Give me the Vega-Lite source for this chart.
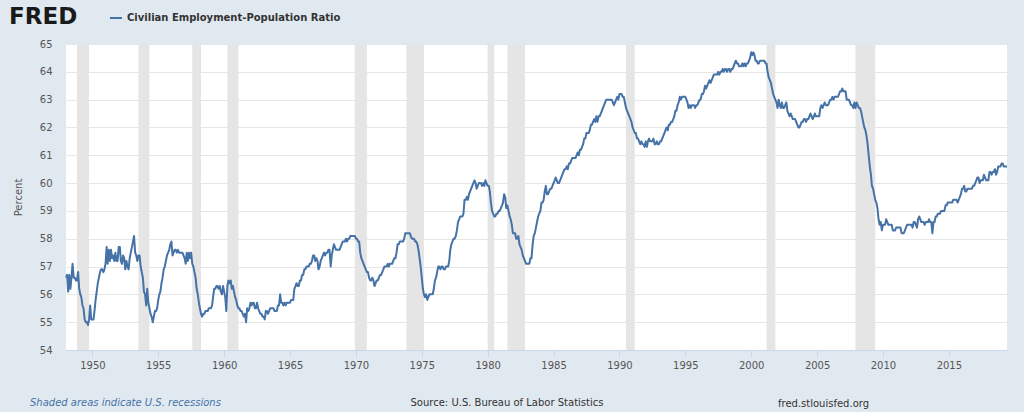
{
  "$schema": "https://vega.github.io/schema/vega-lite/v6.json",
  "width": 941,
  "height": 306,
  "autosize": {"type": "none"},
  "padding": {"left": 66, "top": 44, "right": 17, "bottom": 62},
  "background": "#e1e9f0",
  "config": {
    "font": "DejaVu Sans",
    "view": {"fill": "#ffffff", "stroke": null}
  },
  "title": {
    "text": "fred.stlouisfed.org",
    "orient": "bottom",
    "anchor": "start",
    "frame": "group",
    "dx": 712,
    "dy": -13,
    "fontSize": 10,
    "fontWeight": "normal",
    "color": "#333333"
  },
  "datasets": {
    "recessions": [
      {"start": "1948-11-01", "end": "1949-10-01", "note": "Shaded areas indicate U.S. recessions"},
      {"start": "1953-07-01", "end": "1954-05-01", "note": "Shaded areas indicate U.S. recessions"},
      {"start": "1957-08-01", "end": "1958-04-01", "note": "Shaded areas indicate U.S. recessions"},
      {"start": "1960-04-01", "end": "1961-02-01", "note": "Shaded areas indicate U.S. recessions"},
      {"start": "1969-12-01", "end": "1970-11-01", "note": "Shaded areas indicate U.S. recessions"},
      {"start": "1973-11-01", "end": "1975-03-01", "note": "Shaded areas indicate U.S. recessions"},
      {"start": "1980-01-01", "end": "1980-07-01", "note": "Shaded areas indicate U.S. recessions"},
      {"start": "1981-07-01", "end": "1982-11-01", "note": "Shaded areas indicate U.S. recessions"},
      {"start": "1990-07-01", "end": "1991-03-01", "note": "Shaded areas indicate U.S. recessions"},
      {"start": "2001-03-01", "end": "2001-11-01", "note": "Shaded areas indicate U.S. recessions"},
      {"start": "2007-12-01", "end": "2009-06-01", "note": "Shaded areas indicate U.S. recessions"}
    ],
    "ratio": [
      {"date":"1948-01-01","value":56.6},{"date":"1948-02-01","value":56.7},{"date":"1948-03-01","value":56.1},{"date":"1948-04-01","value":56.7},{"date":"1948-05-01","value":56.2},{"date":"1948-06-01","value":56.6},{"date":"1948-07-01","value":57.1},{"date":"1948-08-01","value":56.6},{"date":"1948-09-01","value":56.6},{"date":"1948-10-01","value":56.5},{"date":"1948-11-01","value":56.5},{"date":"1948-12-01","value":56.8},
      {"date":"1949-01-01","value":56.2},{"date":"1949-02-01","value":56.0},{"date":"1949-03-01","value":55.9},{"date":"1949-04-01","value":55.6},{"date":"1949-05-01","value":55.5},{"date":"1949-06-01","value":55.1},{"date":"1949-07-01","value":55.0},{"date":"1949-08-01","value":55.0},{"date":"1949-09-01","value":54.9},{"date":"1949-10-01","value":55.1},{"date":"1949-11-01","value":55.6},{"date":"1949-12-01","value":55.1},
      {"date":"1950-01-01","value":55.1},{"date":"1950-02-01","value":55.1},{"date":"1950-03-01","value":55.4},{"date":"1950-04-01","value":55.8},{"date":"1950-05-01","value":56.1},{"date":"1950-06-01","value":56.4},{"date":"1950-07-01","value":56.6},{"date":"1950-08-01","value":56.8},{"date":"1950-09-01","value":56.9},{"date":"1950-10-01","value":56.9},{"date":"1950-11-01","value":56.8},{"date":"1950-12-01","value":56.9},
      {"date":"1951-01-01","value":57.1},{"date":"1951-02-01","value":57.7},{"date":"1951-03-01","value":57.1},{"date":"1951-04-01","value":57.6},{"date":"1951-05-01","value":57.2},{"date":"1951-06-01","value":57.6},{"date":"1951-07-01","value":57.3},{"date":"1951-08-01","value":57.4},{"date":"1951-09-01","value":57.2},{"date":"1951-10-01","value":57.5},{"date":"1951-11-01","value":57.2},{"date":"1951-12-01","value":57.2},
      {"date":"1952-01-01","value":57.7},{"date":"1952-02-01","value":57.7},{"date":"1952-03-01","value":57.2},{"date":"1952-04-01","value":57.1},{"date":"1952-05-01","value":57.4},{"date":"1952-06-01","value":57.3},{"date":"1952-07-01","value":56.9},{"date":"1952-08-01","value":57.2},{"date":"1952-09-01","value":57.0},{"date":"1952-10-01","value":56.9},{"date":"1952-11-01","value":57.3},{"date":"1952-12-01","value":57.5},
      {"date":"1953-01-01","value":57.7},{"date":"1953-02-01","value":57.9},{"date":"1953-03-01","value":58.1},{"date":"1953-04-01","value":57.5},{"date":"1953-05-01","value":57.4},{"date":"1953-06-01","value":57.2},{"date":"1953-07-01","value":57.4},{"date":"1953-08-01","value":57.4},{"date":"1953-09-01","value":57.0},{"date":"1953-10-01","value":56.8},{"date":"1953-11-01","value":56.6},{"date":"1953-12-01","value":56.1},
      {"date":"1954-01-01","value":56.0},{"date":"1954-02-01","value":55.6},{"date":"1954-03-01","value":56.2},{"date":"1954-04-01","value":55.7},{"date":"1954-05-01","value":55.5},{"date":"1954-06-01","value":55.3},{"date":"1954-07-01","value":55.2},{"date":"1954-08-01","value":55.0},{"date":"1954-09-01","value":55.2},{"date":"1954-10-01","value":55.4},{"date":"1954-11-01","value":55.4},{"date":"1954-12-01","value":55.5},
      {"date":"1955-01-01","value":55.8},{"date":"1955-02-01","value":56.0},{"date":"1955-03-01","value":56.1},{"date":"1955-04-01","value":56.4},{"date":"1955-05-01","value":56.6},{"date":"1955-06-01","value":56.9},{"date":"1955-07-01","value":57.0},{"date":"1955-08-01","value":57.2},{"date":"1955-09-01","value":57.4},{"date":"1955-10-01","value":57.5},{"date":"1955-11-01","value":57.6},{"date":"1955-12-01","value":57.8},
      {"date":"1956-01-01","value":57.9},{"date":"1956-02-01","value":57.4},{"date":"1956-03-01","value":57.5},{"date":"1956-04-01","value":57.6},{"date":"1956-05-01","value":57.6},{"date":"1956-06-01","value":57.5},{"date":"1956-07-01","value":57.6},{"date":"1956-08-01","value":57.5},{"date":"1956-09-01","value":57.5},{"date":"1956-10-01","value":57.5},{"date":"1956-11-01","value":57.5},{"date":"1956-12-01","value":57.4},
      {"date":"1957-01-01","value":57.3},{"date":"1957-02-01","value":57.1},{"date":"1957-03-01","value":57.5},{"date":"1957-04-01","value":57.2},{"date":"1957-05-01","value":57.5},{"date":"1957-06-01","value":57.3},{"date":"1957-07-01","value":57.5},{"date":"1957-08-01","value":57.1},{"date":"1957-09-01","value":57.0},{"date":"1957-10-01","value":56.8},{"date":"1957-11-01","value":56.6},{"date":"1957-12-01","value":56.2},
      {"date":"1958-01-01","value":56.0},{"date":"1958-02-01","value":55.7},{"date":"1958-03-01","value":55.5},{"date":"1958-04-01","value":55.3},{"date":"1958-05-01","value":55.2},{"date":"1958-06-01","value":55.3},{"date":"1958-07-01","value":55.3},{"date":"1958-08-01","value":55.4},{"date":"1958-09-01","value":55.4},{"date":"1958-10-01","value":55.4},{"date":"1958-11-01","value":55.5},{"date":"1958-12-01","value":55.5},
      {"date":"1959-01-01","value":55.5},{"date":"1959-02-01","value":55.6},{"date":"1959-03-01","value":55.9},{"date":"1959-04-01","value":56.2},{"date":"1959-05-01","value":56.2},{"date":"1959-06-01","value":56.3},{"date":"1959-07-01","value":56.3},{"date":"1959-08-01","value":56.2},{"date":"1959-09-01","value":56.3},{"date":"1959-10-01","value":56.1},{"date":"1959-11-01","value":56.0},{"date":"1959-12-01","value":56.3},
      {"date":"1960-01-01","value":56.1},{"date":"1960-02-01","value":55.9},{"date":"1960-03-01","value":55.4},{"date":"1960-04-01","value":56.3},{"date":"1960-05-01","value":56.5},{"date":"1960-06-01","value":56.4},{"date":"1960-07-01","value":56.5},{"date":"1960-08-01","value":56.2},{"date":"1960-09-01","value":56.3},{"date":"1960-10-01","value":56.1},{"date":"1960-11-01","value":55.9},{"date":"1960-12-01","value":55.8},
      {"date":"1961-01-01","value":55.6},{"date":"1961-02-01","value":55.5},{"date":"1961-03-01","value":55.5},{"date":"1961-04-01","value":55.4},{"date":"1961-05-01","value":55.4},{"date":"1961-06-01","value":55.3},{"date":"1961-07-01","value":55.2},{"date":"1961-08-01","value":55.3},{"date":"1961-09-01","value":55.0},{"date":"1961-10-01","value":55.5},{"date":"1961-11-01","value":55.4},{"date":"1961-12-01","value":55.5},
      {"date":"1962-01-01","value":55.7},{"date":"1962-02-01","value":55.6},{"date":"1962-03-01","value":55.7},{"date":"1962-04-01","value":55.7},{"date":"1962-05-01","value":55.5},{"date":"1962-06-01","value":55.5},{"date":"1962-07-01","value":55.7},{"date":"1962-08-01","value":55.5},{"date":"1962-09-01","value":55.4},{"date":"1962-10-01","value":55.3},{"date":"1962-11-01","value":55.3},{"date":"1962-12-01","value":55.2},
      {"date":"1963-01-01","value":55.2},{"date":"1963-02-01","value":55.1},{"date":"1963-03-01","value":55.4},{"date":"1963-04-01","value":55.4},{"date":"1963-05-01","value":55.3},{"date":"1963-06-01","value":55.4},{"date":"1963-07-01","value":55.5},{"date":"1963-08-01","value":55.5},{"date":"1963-09-01","value":55.5},{"date":"1963-10-01","value":55.5},{"date":"1963-11-01","value":55.4},{"date":"1963-12-01","value":55.4},
      {"date":"1964-01-01","value":55.4},{"date":"1964-02-01","value":55.6},{"date":"1964-03-01","value":55.6},{"date":"1964-04-01","value":56.0},{"date":"1964-05-01","value":55.7},{"date":"1964-06-01","value":55.7},{"date":"1964-07-01","value":55.6},{"date":"1964-08-01","value":55.7},{"date":"1964-09-01","value":55.6},{"date":"1964-10-01","value":55.7},{"date":"1964-11-01","value":55.7},{"date":"1964-12-01","value":55.7},
      {"date":"1965-01-01","value":55.7},{"date":"1965-02-01","value":55.8},{"date":"1965-03-01","value":55.8},{"date":"1965-04-01","value":55.8},{"date":"1965-05-01","value":56.2},{"date":"1965-06-01","value":56.3},{"date":"1965-07-01","value":56.4},{"date":"1965-08-01","value":56.3},{"date":"1965-09-01","value":56.3},{"date":"1965-10-01","value":56.5},{"date":"1965-11-01","value":56.5},{"date":"1965-12-01","value":56.7},
      {"date":"1966-01-01","value":56.7},{"date":"1966-02-01","value":56.9},{"date":"1966-03-01","value":56.9},{"date":"1966-04-01","value":57.0},{"date":"1966-05-01","value":57.0},{"date":"1966-06-01","value":57.0},{"date":"1966-07-01","value":57.1},{"date":"1966-08-01","value":57.1},{"date":"1966-09-01","value":57.2},{"date":"1966-10-01","value":57.4},{"date":"1966-11-01","value":57.4},{"date":"1966-12-01","value":57.2},
      {"date":"1967-01-01","value":57.3},{"date":"1967-02-01","value":57.2},{"date":"1967-03-01","value":56.9},{"date":"1967-04-01","value":57.0},{"date":"1967-05-01","value":57.2},{"date":"1967-06-01","value":57.3},{"date":"1967-07-01","value":57.4},{"date":"1967-08-01","value":57.5},{"date":"1967-09-01","value":57.4},{"date":"1967-10-01","value":57.5},{"date":"1967-11-01","value":57.5},{"date":"1967-12-01","value":57.6},
      {"date":"1968-01-01","value":57.6},{"date":"1968-02-01","value":57.0},{"date":"1968-03-01","value":57.4},{"date":"1968-04-01","value":57.6},{"date":"1968-05-01","value":57.8},{"date":"1968-06-01","value":57.7},{"date":"1968-07-01","value":57.6},{"date":"1968-08-01","value":57.6},{"date":"1968-09-01","value":57.6},{"date":"1968-10-01","value":57.6},{"date":"1968-11-01","value":57.7},{"date":"1968-12-01","value":57.8},
      {"date":"1969-01-01","value":57.9},{"date":"1969-02-01","value":57.9},{"date":"1969-03-01","value":57.9},{"date":"1969-04-01","value":58.0},{"date":"1969-05-01","value":57.9},{"date":"1969-06-01","value":58.0},{"date":"1969-07-01","value":58.0},{"date":"1969-08-01","value":58.1},{"date":"1969-09-01","value":58.1},{"date":"1969-10-01","value":58.1},{"date":"1969-11-01","value":58.1},{"date":"1969-12-01","value":58.1},
      {"date":"1970-01-01","value":58.0},{"date":"1970-02-01","value":58.0},{"date":"1970-03-01","value":57.9},{"date":"1970-04-01","value":57.9},{"date":"1970-05-01","value":57.5},{"date":"1970-06-01","value":57.3},{"date":"1970-07-01","value":57.2},{"date":"1970-08-01","value":57.1},{"date":"1970-09-01","value":57.0},{"date":"1970-10-01","value":56.9},{"date":"1970-11-01","value":56.8},{"date":"1970-12-01","value":56.8},
      {"date":"1971-01-01","value":56.6},{"date":"1971-02-01","value":56.5},{"date":"1971-03-01","value":56.5},{"date":"1971-04-01","value":56.6},{"date":"1971-05-01","value":56.5},{"date":"1971-06-01","value":56.3},{"date":"1971-07-01","value":56.4},{"date":"1971-08-01","value":56.5},{"date":"1971-09-01","value":56.5},{"date":"1971-10-01","value":56.6},{"date":"1971-11-01","value":56.7},{"date":"1971-12-01","value":56.7},
      {"date":"1972-01-01","value":56.8},{"date":"1972-02-01","value":56.9},{"date":"1972-03-01","value":57.0},{"date":"1972-04-01","value":57.0},{"date":"1972-05-01","value":57.0},{"date":"1972-06-01","value":57.1},{"date":"1972-07-01","value":57.0},{"date":"1972-08-01","value":57.1},{"date":"1972-09-01","value":57.1},{"date":"1972-10-01","value":57.1},{"date":"1972-11-01","value":57.2},{"date":"1972-12-01","value":57.3},
      {"date":"1973-01-01","value":57.3},{"date":"1973-02-01","value":57.5},{"date":"1973-03-01","value":57.8},{"date":"1973-04-01","value":57.8},{"date":"1973-05-01","value":57.9},{"date":"1973-06-01","value":57.9},{"date":"1973-07-01","value":57.9},{"date":"1973-08-01","value":57.9},{"date":"1973-09-01","value":58.0},{"date":"1973-10-01","value":58.2},{"date":"1973-11-01","value":58.2},{"date":"1973-12-01","value":58.2},
      {"date":"1974-01-01","value":58.2},{"date":"1974-02-01","value":58.2},{"date":"1974-03-01","value":58.1},{"date":"1974-04-01","value":58.0},{"date":"1974-05-01","value":58.0},{"date":"1974-06-01","value":58.0},{"date":"1974-07-01","value":57.9},{"date":"1974-08-01","value":57.9},{"date":"1974-09-01","value":57.8},{"date":"1974-10-01","value":57.6},{"date":"1974-11-01","value":57.3},{"date":"1974-12-01","value":57.0},
      {"date":"1975-01-01","value":56.6},{"date":"1975-02-01","value":56.2},{"date":"1975-03-01","value":56.0},{"date":"1975-04-01","value":55.9},{"date":"1975-05-01","value":56.0},{"date":"1975-06-01","value":55.8},{"date":"1975-07-01","value":55.9},{"date":"1975-08-01","value":56.0},{"date":"1975-09-01","value":56.0},{"date":"1975-10-01","value":56.0},{"date":"1975-11-01","value":56.0},{"date":"1975-12-01","value":56.2},
      {"date":"1976-01-01","value":56.5},{"date":"1976-02-01","value":56.6},{"date":"1976-03-01","value":56.8},{"date":"1976-04-01","value":57.0},{"date":"1976-05-01","value":57.0},{"date":"1976-06-01","value":56.9},{"date":"1976-07-01","value":57.0},{"date":"1976-08-01","value":57.0},{"date":"1976-09-01","value":56.9},{"date":"1976-10-01","value":56.9},{"date":"1976-11-01","value":57.0},{"date":"1976-12-01","value":57.0},
      {"date":"1977-01-01","value":57.0},{"date":"1977-02-01","value":57.2},{"date":"1977-03-01","value":57.6},{"date":"1977-04-01","value":57.8},{"date":"1977-05-01","value":57.9},{"date":"1977-06-01","value":58.0},{"date":"1977-07-01","value":58.0},{"date":"1977-08-01","value":58.1},{"date":"1977-09-01","value":58.3},{"date":"1977-10-01","value":58.6},{"date":"1977-11-01","value":58.7},{"date":"1977-12-01","value":58.8},
      {"date":"1978-01-01","value":58.8},{"date":"1978-02-01","value":58.8},{"date":"1978-03-01","value":58.9},{"date":"1978-04-01","value":59.4},{"date":"1978-05-01","value":59.4},{"date":"1978-06-01","value":59.5},{"date":"1978-07-01","value":59.4},{"date":"1978-08-01","value":59.6},{"date":"1978-09-01","value":59.7},{"date":"1978-10-01","value":59.8},{"date":"1978-11-01","value":59.9},{"date":"1978-12-01","value":60.0},
      {"date":"1979-01-01","value":60.1},{"date":"1979-02-01","value":60.0},{"date":"1979-03-01","value":59.8},{"date":"1979-04-01","value":59.9},{"date":"1979-05-01","value":60.0},{"date":"1979-06-01","value":60.0},{"date":"1979-07-01","value":60.0},{"date":"1979-08-01","value":59.9},{"date":"1979-09-01","value":60.0},{"date":"1979-10-01","value":59.9},{"date":"1979-11-01","value":60.1},{"date":"1979-12-01","value":60.0},
      {"date":"1980-01-01","value":59.9},{"date":"1980-02-01","value":59.9},{"date":"1980-03-01","value":59.7},{"date":"1980-04-01","value":59.3},{"date":"1980-05-01","value":59.0},{"date":"1980-06-01","value":58.9},{"date":"1980-07-01","value":58.8},{"date":"1980-08-01","value":58.8},{"date":"1980-09-01","value":58.9},{"date":"1980-10-01","value":58.9},{"date":"1980-11-01","value":59.0},{"date":"1980-12-01","value":59.0},
      {"date":"1981-01-01","value":59.1},{"date":"1981-02-01","value":59.2},{"date":"1981-03-01","value":59.3},{"date":"1981-04-01","value":59.6},{"date":"1981-05-01","value":59.5},{"date":"1981-06-01","value":59.1},{"date":"1981-07-01","value":59.2},{"date":"1981-08-01","value":59.0},{"date":"1981-09-01","value":58.8},{"date":"1981-10-01","value":58.7},{"date":"1981-11-01","value":58.5},{"date":"1981-12-01","value":58.2},
      {"date":"1982-01-01","value":58.2},{"date":"1982-02-01","value":58.2},{"date":"1982-03-01","value":58.0},{"date":"1982-04-01","value":58.0},{"date":"1982-05-01","value":58.1},{"date":"1982-06-01","value":57.8},{"date":"1982-07-01","value":57.7},{"date":"1982-08-01","value":57.6},{"date":"1982-09-01","value":57.4},{"date":"1982-10-01","value":57.3},{"date":"1982-11-01","value":57.2},{"date":"1982-12-01","value":57.1},
      {"date":"1983-01-01","value":57.1},{"date":"1983-02-01","value":57.1},{"date":"1983-03-01","value":57.1},{"date":"1983-04-01","value":57.3},{"date":"1983-05-01","value":57.3},{"date":"1983-06-01","value":57.8},{"date":"1983-07-01","value":58.1},{"date":"1983-08-01","value":58.2},{"date":"1983-09-01","value":58.4},{"date":"1983-10-01","value":58.6},{"date":"1983-11-01","value":58.8},{"date":"1983-12-01","value":58.9},
      {"date":"1984-01-01","value":59.0},{"date":"1984-02-01","value":59.3},{"date":"1984-03-01","value":59.3},{"date":"1984-04-01","value":59.4},{"date":"1984-05-01","value":59.7},{"date":"1984-06-01","value":59.9},{"date":"1984-07-01","value":59.6},{"date":"1984-08-01","value":59.6},{"date":"1984-09-01","value":59.7},{"date":"1984-10-01","value":59.8},{"date":"1984-11-01","value":59.8},{"date":"1984-12-01","value":59.9},
      {"date":"1985-01-01","value":60.0},{"date":"1985-02-01","value":60.1},{"date":"1985-03-01","value":60.2},{"date":"1985-04-01","value":60.1},{"date":"1985-05-01","value":60.0},{"date":"1985-06-01","value":60.0},{"date":"1985-07-01","value":60.1},{"date":"1985-08-01","value":60.2},{"date":"1985-09-01","value":60.3},{"date":"1985-10-01","value":60.4},{"date":"1985-11-01","value":60.5},{"date":"1985-12-01","value":60.5},
      {"date":"1986-01-01","value":60.6},{"date":"1986-02-01","value":60.5},{"date":"1986-03-01","value":60.7},{"date":"1986-04-01","value":60.7},{"date":"1986-05-01","value":60.8},{"date":"1986-06-01","value":60.9},{"date":"1986-07-01","value":60.9},{"date":"1986-08-01","value":60.9},{"date":"1986-09-01","value":60.9},{"date":"1986-10-01","value":61.0},{"date":"1986-11-01","value":61.1},{"date":"1986-12-01","value":61.0},
      {"date":"1987-01-01","value":61.2},{"date":"1987-02-01","value":61.2},{"date":"1987-03-01","value":61.3},{"date":"1987-04-01","value":61.4},{"date":"1987-05-01","value":61.6},{"date":"1987-06-01","value":61.6},{"date":"1987-07-01","value":61.8},{"date":"1987-08-01","value":61.8},{"date":"1987-09-01","value":61.8},{"date":"1987-10-01","value":61.9},{"date":"1987-11-01","value":62.1},{"date":"1987-12-01","value":62.1},
      {"date":"1988-01-01","value":62.2},{"date":"1988-02-01","value":62.3},{"date":"1988-03-01","value":62.2},{"date":"1988-04-01","value":62.4},{"date":"1988-05-01","value":62.2},{"date":"1988-06-01","value":62.4},{"date":"1988-07-01","value":62.4},{"date":"1988-08-01","value":62.5},{"date":"1988-09-01","value":62.6},{"date":"1988-10-01","value":62.7},{"date":"1988-11-01","value":62.8},{"date":"1988-12-01","value":62.9},
      {"date":"1989-01-01","value":63.0},{"date":"1989-02-01","value":63.0},{"date":"1989-03-01","value":63.0},{"date":"1989-04-01","value":63.0},{"date":"1989-05-01","value":63.0},{"date":"1989-06-01","value":63.0},{"date":"1989-07-01","value":62.9},{"date":"1989-08-01","value":62.8},{"date":"1989-09-01","value":62.9},{"date":"1989-10-01","value":63.0},{"date":"1989-11-01","value":63.1},{"date":"1989-12-01","value":63.0},
      {"date":"1990-01-01","value":63.2},{"date":"1990-02-01","value":63.2},{"date":"1990-03-01","value":63.2},{"date":"1990-04-01","value":63.1},{"date":"1990-05-01","value":63.1},{"date":"1990-06-01","value":62.9},{"date":"1990-07-01","value":62.7},{"date":"1990-08-01","value":62.6},{"date":"1990-09-01","value":62.5},{"date":"1990-10-01","value":62.4},{"date":"1990-11-01","value":62.3},{"date":"1990-12-01","value":62.2},
      {"date":"1991-01-01","value":62.0},{"date":"1991-02-01","value":61.9},{"date":"1991-03-01","value":61.8},{"date":"1991-04-01","value":61.8},{"date":"1991-05-01","value":61.6},{"date":"1991-06-01","value":61.6},{"date":"1991-07-01","value":61.5},{"date":"1991-08-01","value":61.4},{"date":"1991-09-01","value":61.5},{"date":"1991-10-01","value":61.4},{"date":"1991-11-01","value":61.4},{"date":"1991-12-01","value":61.3},
      {"date":"1992-01-01","value":61.5},{"date":"1992-02-01","value":61.3},{"date":"1992-03-01","value":61.5},{"date":"1992-04-01","value":61.6},{"date":"1992-05-01","value":61.5},{"date":"1992-06-01","value":61.5},{"date":"1992-07-01","value":61.5},{"date":"1992-08-01","value":61.6},{"date":"1992-09-01","value":61.4},{"date":"1992-10-01","value":61.4},{"date":"1992-11-01","value":61.5},{"date":"1992-12-01","value":61.4},
      {"date":"1993-01-01","value":61.4},{"date":"1993-02-01","value":61.5},{"date":"1993-03-01","value":61.5},{"date":"1993-04-01","value":61.6},{"date":"1993-05-01","value":61.7},{"date":"1993-06-01","value":61.8},{"date":"1993-07-01","value":61.9},{"date":"1993-08-01","value":62.0},{"date":"1993-09-01","value":61.9},{"date":"1993-10-01","value":62.1},{"date":"1993-11-01","value":62.1},{"date":"1993-12-01","value":62.2},
      {"date":"1994-01-01","value":62.2},{"date":"1994-02-01","value":62.3},{"date":"1994-03-01","value":62.4},{"date":"1994-04-01","value":62.6},{"date":"1994-05-01","value":62.6},{"date":"1994-06-01","value":62.8},{"date":"1994-07-01","value":62.9},{"date":"1994-08-01","value":63.1},{"date":"1994-09-01","value":63.0},{"date":"1994-10-01","value":63.1},{"date":"1994-11-01","value":63.1},{"date":"1994-12-01","value":63.1},
      {"date":"1995-01-01","value":63.1},{"date":"1995-02-01","value":63.0},{"date":"1995-03-01","value":62.9},{"date":"1995-04-01","value":62.7},{"date":"1995-05-01","value":62.8},{"date":"1995-06-01","value":62.7},{"date":"1995-07-01","value":62.8},{"date":"1995-08-01","value":62.8},{"date":"1995-09-01","value":62.8},{"date":"1995-10-01","value":62.7},{"date":"1995-11-01","value":62.8},{"date":"1995-12-01","value":62.8},
      {"date":"1996-01-01","value":62.9},{"date":"1996-02-01","value":63.0},{"date":"1996-03-01","value":63.0},{"date":"1996-04-01","value":63.2},{"date":"1996-05-01","value":63.2},{"date":"1996-06-01","value":63.3},{"date":"1996-07-01","value":63.5},{"date":"1996-08-01","value":63.4},{"date":"1996-09-01","value":63.5},{"date":"1996-10-01","value":63.6},{"date":"1996-11-01","value":63.7},{"date":"1996-12-01","value":63.6},
      {"date":"1997-01-01","value":63.7},{"date":"1997-02-01","value":63.8},{"date":"1997-03-01","value":63.9},{"date":"1997-04-01","value":63.9},{"date":"1997-05-01","value":63.9},{"date":"1997-06-01","value":63.9},{"date":"1997-07-01","value":64.0},{"date":"1997-08-01","value":63.9},{"date":"1997-09-01","value":64.0},{"date":"1997-10-01","value":64.0},{"date":"1997-11-01","value":64.1},{"date":"1997-12-01","value":64.0},
      {"date":"1998-01-01","value":64.1},{"date":"1998-02-01","value":64.1},{"date":"1998-03-01","value":64.0},{"date":"1998-04-01","value":64.1},{"date":"1998-05-01","value":64.1},{"date":"1998-06-01","value":64.0},{"date":"1998-07-01","value":64.1},{"date":"1998-08-01","value":64.1},{"date":"1998-09-01","value":64.2},{"date":"1998-10-01","value":64.3},{"date":"1998-11-01","value":64.4},{"date":"1998-12-01","value":64.3},
      {"date":"1999-01-01","value":64.3},{"date":"1999-02-01","value":64.2},{"date":"1999-03-01","value":64.2},{"date":"1999-04-01","value":64.2},{"date":"1999-05-01","value":64.3},{"date":"1999-06-01","value":64.2},{"date":"1999-07-01","value":64.3},{"date":"1999-08-01","value":64.2},{"date":"1999-09-01","value":64.3},{"date":"1999-10-01","value":64.3},{"date":"1999-11-01","value":64.4},{"date":"1999-12-01","value":64.5},
      {"date":"2000-01-01","value":64.7},{"date":"2000-02-01","value":64.6},{"date":"2000-03-01","value":64.7},{"date":"2000-04-01","value":64.6},{"date":"2000-05-01","value":64.4},{"date":"2000-06-01","value":64.4},{"date":"2000-07-01","value":64.3},{"date":"2000-08-01","value":64.3},{"date":"2000-09-01","value":64.4},{"date":"2000-10-01","value":64.4},{"date":"2000-11-01","value":64.4},{"date":"2000-12-01","value":64.4},
      {"date":"2001-01-01","value":64.4},{"date":"2001-02-01","value":64.3},{"date":"2001-03-01","value":64.3},{"date":"2001-04-01","value":64.0},{"date":"2001-05-01","value":63.8},{"date":"2001-06-01","value":63.7},{"date":"2001-07-01","value":63.6},{"date":"2001-08-01","value":63.4},{"date":"2001-09-01","value":63.2},{"date":"2001-10-01","value":63.1},{"date":"2001-11-01","value":63.0},{"date":"2001-12-01","value":62.9},
      {"date":"2002-01-01","value":62.7},{"date":"2002-02-01","value":63.0},{"date":"2002-03-01","value":62.8},{"date":"2002-04-01","value":62.7},{"date":"2002-05-01","value":62.9},{"date":"2002-06-01","value":62.7},{"date":"2002-07-01","value":62.7},{"date":"2002-08-01","value":62.8},{"date":"2002-09-01","value":62.9},{"date":"2002-10-01","value":62.6},{"date":"2002-11-01","value":62.5},{"date":"2002-12-01","value":62.4},
      {"date":"2003-01-01","value":62.5},{"date":"2003-02-01","value":62.4},{"date":"2003-03-01","value":62.3},{"date":"2003-04-01","value":62.3},{"date":"2003-05-01","value":62.3},{"date":"2003-06-01","value":62.2},{"date":"2003-07-01","value":62.1},{"date":"2003-08-01","value":62.0},{"date":"2003-09-01","value":62.0},{"date":"2003-10-01","value":62.1},{"date":"2003-11-01","value":62.2},{"date":"2003-12-01","value":62.2},
      {"date":"2004-01-01","value":62.3},{"date":"2004-02-01","value":62.3},{"date":"2004-03-01","value":62.2},{"date":"2004-04-01","value":62.3},{"date":"2004-05-01","value":62.3},{"date":"2004-06-01","value":62.4},{"date":"2004-07-01","value":62.5},{"date":"2004-08-01","value":62.4},{"date":"2004-09-01","value":62.3},{"date":"2004-10-01","value":62.4},{"date":"2004-11-01","value":62.5},{"date":"2004-12-01","value":62.4},
      {"date":"2005-01-01","value":62.4},{"date":"2005-02-01","value":62.4},{"date":"2005-03-01","value":62.4},{"date":"2005-04-01","value":62.7},{"date":"2005-05-01","value":62.8},{"date":"2005-06-01","value":62.7},{"date":"2005-07-01","value":62.8},{"date":"2005-08-01","value":62.9},{"date":"2005-09-01","value":62.8},{"date":"2005-10-01","value":62.8},{"date":"2005-11-01","value":62.8},{"date":"2005-12-01","value":62.9},
      {"date":"2006-01-01","value":63.0},{"date":"2006-02-01","value":63.0},{"date":"2006-03-01","value":63.1},{"date":"2006-04-01","value":63.0},{"date":"2006-05-01","value":63.1},{"date":"2006-06-01","value":63.1},{"date":"2006-07-01","value":63.1},{"date":"2006-08-01","value":63.1},{"date":"2006-09-01","value":63.2},{"date":"2006-10-01","value":63.3},{"date":"2006-11-01","value":63.3},{"date":"2006-12-01","value":63.4},
      {"date":"2007-01-01","value":63.3},{"date":"2007-02-01","value":63.3},{"date":"2007-03-01","value":63.3},{"date":"2007-04-01","value":63.0},{"date":"2007-05-01","value":63.0},{"date":"2007-06-01","value":63.0},{"date":"2007-07-01","value":62.9},{"date":"2007-08-01","value":62.8},{"date":"2007-09-01","value":62.8},{"date":"2007-10-01","value":62.7},{"date":"2007-11-01","value":62.9},{"date":"2007-12-01","value":62.7},
      {"date":"2008-01-01","value":62.9},{"date":"2008-02-01","value":62.8},{"date":"2008-03-01","value":62.7},{"date":"2008-04-01","value":62.7},{"date":"2008-05-01","value":62.6},{"date":"2008-06-01","value":62.4},{"date":"2008-07-01","value":62.2},{"date":"2008-08-01","value":62.0},{"date":"2008-09-01","value":61.9},{"date":"2008-10-01","value":61.7},{"date":"2008-11-01","value":61.4},{"date":"2008-12-01","value":61.0},
      {"date":"2009-01-01","value":60.6},{"date":"2009-02-01","value":60.3},{"date":"2009-03-01","value":59.9},{"date":"2009-04-01","value":59.8},{"date":"2009-05-01","value":59.6},{"date":"2009-06-01","value":59.4},{"date":"2009-07-01","value":59.3},{"date":"2009-08-01","value":59.1},{"date":"2009-09-01","value":58.7},{"date":"2009-10-01","value":58.5},{"date":"2009-11-01","value":58.6},{"date":"2009-12-01","value":58.3},
      {"date":"2010-01-01","value":58.5},{"date":"2010-02-01","value":58.5},{"date":"2010-03-01","value":58.5},{"date":"2010-04-01","value":58.7},{"date":"2010-05-01","value":58.6},{"date":"2010-06-01","value":58.5},{"date":"2010-07-01","value":58.5},{"date":"2010-08-01","value":58.5},{"date":"2010-09-01","value":58.5},{"date":"2010-10-01","value":58.3},{"date":"2010-11-01","value":58.3},{"date":"2010-12-01","value":58.3},
      {"date":"2011-01-01","value":58.4},{"date":"2011-02-01","value":58.4},{"date":"2011-03-01","value":58.4},{"date":"2011-04-01","value":58.4},{"date":"2011-05-01","value":58.4},{"date":"2011-06-01","value":58.2},{"date":"2011-07-01","value":58.2},{"date":"2011-08-01","value":58.2},{"date":"2011-09-01","value":58.3},{"date":"2011-10-01","value":58.4},{"date":"2011-11-01","value":58.5},{"date":"2011-12-01","value":58.5},
      {"date":"2012-01-01","value":58.5},{"date":"2012-02-01","value":58.5},{"date":"2012-03-01","value":58.5},{"date":"2012-04-01","value":58.4},{"date":"2012-05-01","value":58.6},{"date":"2012-06-01","value":58.6},{"date":"2012-07-01","value":58.5},{"date":"2012-08-01","value":58.4},{"date":"2012-09-01","value":58.7},{"date":"2012-10-01","value":58.8},{"date":"2012-11-01","value":58.7},{"date":"2012-12-01","value":58.6},
      {"date":"2013-01-01","value":58.6},{"date":"2013-02-01","value":58.6},{"date":"2013-03-01","value":58.5},{"date":"2013-04-01","value":58.6},{"date":"2013-05-01","value":58.6},{"date":"2013-06-01","value":58.6},{"date":"2013-07-01","value":58.7},{"date":"2013-08-01","value":58.6},{"date":"2013-09-01","value":58.6},{"date":"2013-10-01","value":58.2},{"date":"2013-11-01","value":58.6},{"date":"2013-12-01","value":58.6},
      {"date":"2014-01-01","value":58.8},{"date":"2014-02-01","value":58.8},{"date":"2014-03-01","value":58.9},{"date":"2014-04-01","value":58.9},{"date":"2014-05-01","value":58.9},{"date":"2014-06-01","value":59.0},{"date":"2014-07-01","value":59.0},{"date":"2014-08-01","value":59.0},{"date":"2014-09-01","value":59.0},{"date":"2014-10-01","value":59.2},{"date":"2014-11-01","value":59.2},{"date":"2014-12-01","value":59.3},
      {"date":"2015-01-01","value":59.3},{"date":"2015-02-01","value":59.3},{"date":"2015-03-01","value":59.3},{"date":"2015-04-01","value":59.3},{"date":"2015-05-01","value":59.4},{"date":"2015-06-01","value":59.4},{"date":"2015-07-01","value":59.4},{"date":"2015-08-01","value":59.4},{"date":"2015-09-01","value":59.3},{"date":"2015-10-01","value":59.4},{"date":"2015-11-01","value":59.5},{"date":"2015-12-01","value":59.6},
      {"date":"2016-01-01","value":59.8},{"date":"2016-02-01","value":59.8},{"date":"2016-03-01","value":59.9},{"date":"2016-04-01","value":59.7},{"date":"2016-05-01","value":59.7},{"date":"2016-06-01","value":59.8},{"date":"2016-07-01","value":59.8},{"date":"2016-08-01","value":59.8},{"date":"2016-09-01","value":59.8},{"date":"2016-10-01","value":59.8},{"date":"2016-11-01","value":59.9},{"date":"2016-12-01","value":59.9},
      {"date":"2017-01-01","value":60.0},{"date":"2017-02-01","value":60.1},{"date":"2017-03-01","value":60.2},{"date":"2017-04-01","value":60.2},{"date":"2017-05-01","value":60.0},{"date":"2017-06-01","value":60.1},{"date":"2017-07-01","value":60.1},{"date":"2017-08-01","value":60.1},{"date":"2017-09-01","value":60.3},{"date":"2017-10-01","value":60.2},{"date":"2017-11-01","value":60.1},{"date":"2017-12-01","value":60.1},
      {"date":"2018-01-01","value":60.1},{"date":"2018-02-01","value":60.4},{"date":"2018-03-01","value":60.4},{"date":"2018-04-01","value":60.3},{"date":"2018-05-01","value":60.4},{"date":"2018-06-01","value":60.4},{"date":"2018-07-01","value":60.5},{"date":"2018-08-01","value":60.3},{"date":"2018-09-01","value":60.4},{"date":"2018-10-01","value":60.6},{"date":"2018-11-01","value":60.6},{"date":"2018-12-01","value":60.6},
      {"date":"2019-01-01","value":60.7},{"date":"2019-02-01","value":60.7},{"date":"2019-03-01","value":60.6},{"date":"2019-04-01","value":60.6},{"date":"2019-05-01","value":60.6},{"date":"2019-06-01","value":60.6}
    ]
  },
  "layer": [
    {
      "data": {"name": "recessions"},
      "mark": {"type": "rect"},
      "encoding": {
        "x": {"field": "start", "type": "temporal"},
        "x2": {"field": "end"},
        "fill": {
          "field": "note",
          "type": "nominal",
          "scale": {"range": ["#e5e5e5"]},
          "legend": {
            "title": null,
            "orient": "none",
            "legendX": -46,
            "legendY": 354,
            "symbolOpacity": 0,
            "symbolSize": 1,
            "labelOffset": 0,
            "labelFont": "DejaVu Sans",
            "labelFontSize": 10,
            "labelFontStyle": "italic",
            "labelColor": "#4572a7",
            "labelLimit": 400
          }
        }
      }
    },
    {
      "data": {"name": "ratio"},
      "mark": {"type": "line", "strokeWidth": 2, "strokeJoin": "round"},
      "encoding": {
        "x": {
          "field": "date",
          "type": "temporal",
          "scale": {"domain": ["1948-01-01", "2019-06-01"], "nice": false},
          "axis": {
            "format": "%Y",
            "tickCount": {"interval": "year", "step": 5},
            "grid": false,
            "domainColor": "#ccd6eb",
            "tickColor": "#ccd6eb",
            "tickSize": 7,
            "labelPadding": 3,
            "labelFontSize": 10,
            "labelColor": "#555555",
            "title": "Source: U.S. Bureau of Labor Statistics",
            "titleX": 344,
            "titleY": 52,
            "titleAlign": "left",
            "titleAnchor": null,
            "titleBaseline": "middle",
            "titleFontSize": 10,
            "titleFontWeight": "normal",
            "titleColor": "#333333"
          }
        },
        "y": {
          "field": "value",
          "type": "quantitative",
          "scale": {"domain": [54, 65], "nice": false, "zero": false},
          "axis": {
            "values": [54, 55, 56, 57, 58, 59, 60, 61, 62, 63, 64, 65],
            "domain": false,
            "ticks": false,
            "gridColor": "#e6e6e6",
            "labelPadding": 14,
            "labelFontSize": 10,
            "labelColor": "#555555",
            "title": "Percent",
            "titleX": -48,
            "titleY": 153,
            "titleBaseline": "middle",
            "titleFontSize": 10,
            "titleFontWeight": "normal",
            "titleColor": "#555555"
          }
        },
        "stroke": {
          "field": "series",
          "type": "nominal",
          "scale": {"range": ["#4572a7"]},
          "legend": {
            "title": "FRED",
            "titleOrient": "left",
            "titleFont": "DejaVu Sans",
            "titleFontSize": 23,
            "titleFontWeight": "bold",
            "titleColor": "#1a1a1a",
            "titlePadding": 31,
            "orient": "none",
            "legendX": -57,
            "legendY": -33,
            "symbolType": "stroke",
            "symbolStrokeWidth": 2,
            "symbolSize": 144,
            "labelFont": "DejaVu Sans",
            "labelFontSize": 10,
            "labelFontWeight": "bold",
            "labelColor": "#333333",
            "labelLimit": 400
          }
        }
      },
      "transform": [{"calculate": "'Civilian Employment-Population Ratio'", "as": "series"}]
    }
  ]
}
